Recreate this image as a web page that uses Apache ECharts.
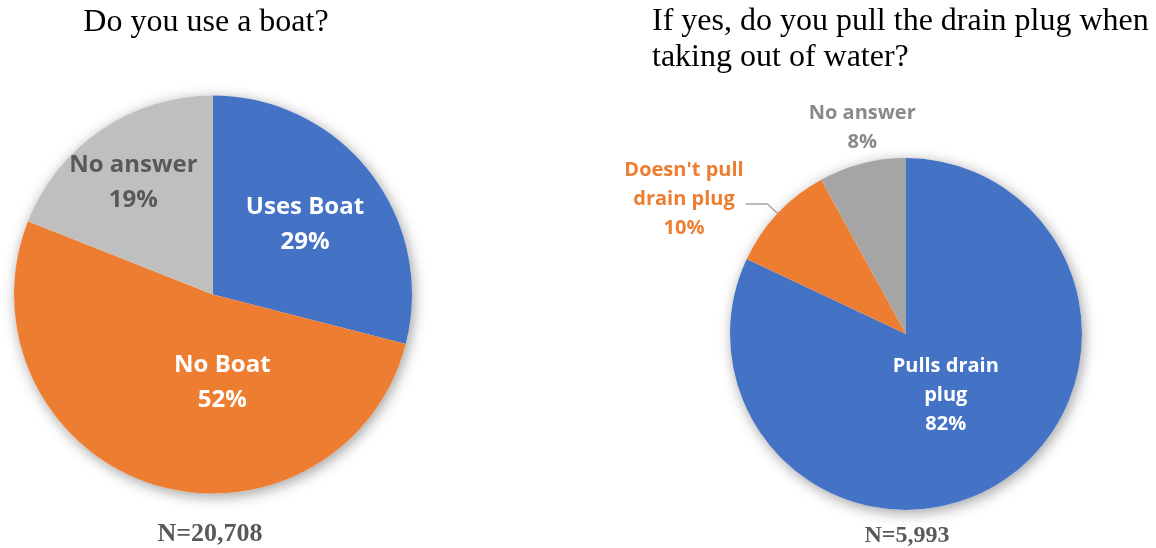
<!DOCTYPE html>
<html>
<head>
<meta charset="utf-8">
<script src="https://cdn.jsdelivr.net/npm/echarts@6/dist/echarts.min.js"></script>
<style>
  html, body { margin: 0; padding: 0; background: #ffffff; }
  #chart { width: 1156px; height: 548px; }
</style>
</head>
<body>
<div id="chart"></div>
<script>
// Survey answers, in percent of respondents
const boatCategories = ['Uses Boat', 'No Boat', 'No answer'];
const boatValues = [29, 52, 19];
const plugCategories = ['Pulls drain plug', "Doesn't pull drain plug", 'No answer'];
const plugValues = [82, 10, 8];

const boatTitle = 'Do you use a boat?';
const plugTitle = 'If yes, do you pull the drain plug when\ntaking out of water?';
const boatCount = 'N=20,708';
const plugCount = 'N=5,993';

// Styling
const boatColors = ['#4472C4', '#ED7D31', '#BFBFBF'];
const plugColors = ['#4472C4', '#ED7D31', '#A5A5A5'];
const boatLabelColors = ['#FFFFFF', '#FFFFFF', '#595959'];
const plugLabelColors = ['#FFFFFF', '#ED7D31', '#898989'];
const boatLabelShift = [[11, -7], [41, -9], [-22, -27]];
const plugLabelShift = [[-9, -16], [0, 0], [81, -22]];

// Break a category name into lines of at most `max` characters
function wrap(name, max) {
  const words = name.split(' ');
  const lines = [];
  let cur = '';
  words.forEach(function (w) {
    const t = cur ? cur + ' ' + w : w;
    if (t.length > max && cur) { lines.push(cur); cur = w; } else { cur = t; }
  });
  lines.push(cur);
  return lines;
}

function labelFor(name, value, color, size, lineH, blockW, position, pad) {
  const lines = wrap(name, 12).concat([value + '%']);
  return {
    show: true,
    position: position,
    rotate: 0,
    padding: pad || 0,
    formatter: lines.map(function (l) { return '{c|' + l + '}'; }).join('\n'),
    rich: {
      c: {
        fontFamily: 'Open Sans',
        fontWeight: 'bold',
        fontSize: size,
        lineHeight: lineH,
        color: color,
        width: blockW,
        align: 'center'
      }
    }
  };
}

// Soft drop shadow under the whole pie
function shadowDisc(center, radius) {
  return {
    type: 'pie', center: center, radius: radius, silent: true, z: 1,
    label: { show: false }, labelLine: { show: false },
    data: [{ value: 1, itemStyle: {
      color: '#ffffff', shadowBlur: 14, shadowColor: 'rgba(0,0,0,0.38)',
      shadowOffsetX: 2, shadowOffsetY: 3
    } }]
  };
}

const boatData = boatValues.map(function (v, i) {
  return {
    value: v,
    name: boatCategories[i],
    itemStyle: { color: boatColors[i] },
    label: labelFor(boatCategories[i], v, boatLabelColors[i], 24, 35, null, 'inside'),
    labelLine: { show: false }
  };
});

const plugPositions = ['inside', 'outside', 'outside'];
const plugBlockWidths = [null, 113, 101];
const plugPads = [0, [0, 0, 10, 0], 0];
const plugData = plugValues.map(function (v, i) {
  return {
    value: v,
    name: plugCategories[i],
    itemStyle: { color: plugColors[i] },
    label: labelFor(plugCategories[i], v, plugLabelColors[i], 20, 29, plugBlockWidths[i], plugPositions[i], plugPads[i]),
    labelLine: {
      show: i === 1, length: 14, length2: 22,
      lineStyle: { color: '#A5A5A5', width: 1.5 }
    }
  };
});

const titleFont = { fontFamily: 'Liberation Serif', fontSize: 32, fontWeight: 'normal', color: '#000000', lineHeight: 36 };
const countFont = { fontFamily: 'Liberation Serif', fontWeight: 'bold', color: '#595959' };

const chart = echarts.init(document.getElementById('chart'), null, { renderer: 'canvas' });
chart.setOption({
  animation: false,
  backgroundColor: '#ffffff',
  title: [
    { text: boatTitle, left: 206, top: 5, padding: 0, textStyle: titleFont, textAlign: 'center' },
    { text: plugTitle, left: 652, top: 4, textAlign: 'left', padding: 0, textStyle: titleFont },
    { text: boatCount, left: 210, top: 520, textAlign: 'center', padding: 0,
      textStyle: Object.assign({ fontSize: 26, lineHeight: 28 }, countFont) },
    { text: plugCount, left: 907, top: 523, textAlign: 'center', padding: 0,
      textStyle: Object.assign({ fontSize: 24, lineHeight: 26 }, countFont) }
  ],
  series: [
    shadowDisc([213, 294.5], 199),
    {
      type: 'pie', name: boatTitle, center: [213, 294.5], radius: 199,
      startAngle: 90, clockwise: true, avoidLabelOverlap: false, silent: true, z: 2,
      itemStyle: { borderWidth: 0 },
      data: boatData,
      labelLayout: function (p) {
        const s = boatLabelShift[p.dataIndex];
        return { dx: s[0], dy: s[1] };
      }
    },
    shadowDisc([906, 334], 176),
    {
      type: 'pie', name: plugTitle, center: [906, 334], radius: 176,
      startAngle: 90, clockwise: true, avoidLabelOverlap: false, silent: true, z: 2,
      itemStyle: { borderWidth: 0 },
      data: plugData,
      labelLayout: function (p) {
        const s = plugLabelShift[p.dataIndex];
        if (s[0] === 0 && s[1] === 0) { return {}; }
        return { dx: s[0], dy: s[1] };
      }
    }
  ]
});
</script>
</body>
</html>
